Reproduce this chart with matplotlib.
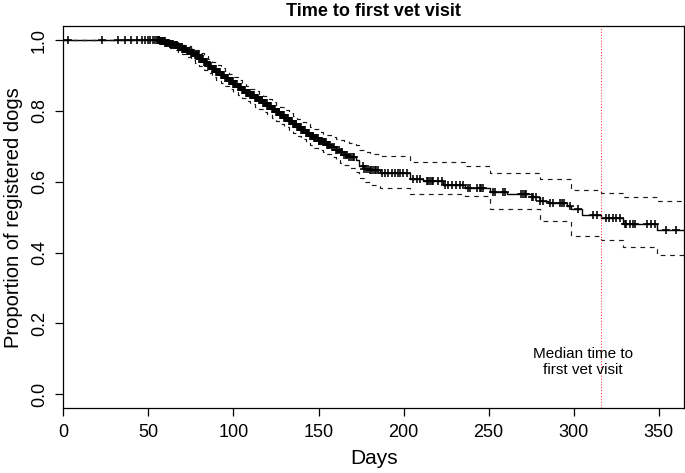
import numpy as np
import matplotlib
matplotlib.use("Agg")
import matplotlib.pyplot as plt

plt.rcParams['font.family'] = ['Liberation Sans', 'DejaVu Sans']

# Kaplan-Meier estimate: step times (days) and survival
step_days = [0, 57, 60, 62.5, 65, 67.5, 70, 72.5, 75, 77.5, 80, 82.5, 85, 87.5, 90,
             92.5, 95, 97.5, 100, 102.5, 105, 107.5, 110, 112.5, 115, 117.5, 120,
             122.5, 125, 127.5, 130, 132.5, 135, 137.5, 140, 142.5, 145, 147.5,
             150, 152.5, 155, 157.5, 160, 162.5, 165, 168, 172, 174, 177, 180, 186,
             203.7, 211.6, 223.3, 236, 250.7, 260.5, 275.2, 280, 285, 295.8, 298.7,
             304.6, 316.3, 329, 348.7]
surv = [1.0, 0.997, 0.993, 0.989, 0.985, 0.98, 0.975, 0.969, 0.963, 0.957, 0.948,
        0.938, 0.928, 0.919, 0.91, 0.902, 0.893, 0.884, 0.876, 0.868, 0.86, 0.852,
        0.845, 0.838, 0.83, 0.823, 0.815, 0.806, 0.797, 0.789, 0.78, 0.771, 0.762,
        0.754, 0.745, 0.737, 0.73, 0.723, 0.716, 0.711, 0.705, 0.698, 0.69, 0.683,
        0.675, 0.67, 0.662, 0.645, 0.636, 0.632, 0.626,
        0.609, 0.602, 0.592, 0.583, 0.571, 0.566, 0.558, 0.547, 0.540, 0.531,
        0.522, 0.507, 0.498, 0.482, 0.465]
upper = [1.0, 1.0, 0.999, 0.997, 0.995, 0.991, 0.987, 0.983, 0.978, 0.971, 0.963,
         0.956, 0.948, 0.939, 0.93, 0.921, 0.913, 0.905, 0.897, 0.888, 0.88, 0.871,
         0.862, 0.855, 0.848, 0.842, 0.835, 0.826, 0.818, 0.81, 0.802, 0.794,
         0.786, 0.778, 0.77, 0.762, 0.755, 0.748, 0.741, 0.736, 0.732, 0.727,
         0.722, 0.718, 0.714, 0.71, 0.705, 0.69, 0.683, 0.679, 0.673,
         0.656, 0.656, 0.656, 0.645, 0.626, 0.626, 0.626, 0.607, 0.607, 0.607,
         0.578, 0.578, 0.569, 0.558, 0.545]
lower = [1.0, 0.99, 0.986, 0.979, 0.972, 0.966, 0.96, 0.953, 0.945, 0.936, 0.926,
         0.916, 0.906, 0.897, 0.888, 0.879, 0.87, 0.861, 0.853, 0.845, 0.837,
         0.828, 0.82, 0.812, 0.805, 0.797, 0.79, 0.781, 0.772, 0.763, 0.755,
         0.746, 0.737, 0.728, 0.72, 0.711, 0.703, 0.696, 0.69, 0.684, 0.678,
         0.67, 0.662, 0.654, 0.647, 0.64, 0.628, 0.612, 0.60, 0.592, 0.583,
         0.564, 0.564, 0.564, 0.56, 0.522, 0.522, 0.522, 0.489, 0.489, 0.489,
         0.446, 0.446, 0.435, 0.416, 0.394]

# censoring times (days)
censor_days = [3, 22.5, 32, 36, 39.5, 43.5, 46, 48, 49.5, 51, 52.5, 54, 55, 55.5, 56,
               56.5, 57, 57.5, 58, 58.5, 59, 59.5, 60, 60.5, 61, 61.5, 62, 62.5, 63,
               63.5, 64, 64.5, 65, 65.5, 66, 66.5, 67, 67.5, 68, 68.5, 69, 69.5, 70,
               70.5, 71, 71.5, 72, 72.5, 73, 73.5, 74, 74.5, 75, 75.5, 76, 76.5, 77,
               77.5, 78, 78.5, 79, 79.5, 80, 80.5, 81, 81.5, 82, 82.5, 83, 83.5, 84,
               84.5, 85, 85.5, 86, 86.5, 87, 87.5, 88, 88.5, 89, 89.5, 90, 90.5, 91,
               91.5, 92, 92.5, 93, 93.5, 94, 94.5, 95, 95.5, 96, 96.5, 97, 97.5, 98,
               98.5, 99, 99.5, 100, 100.5, 101, 101.5, 102, 102.5, 103, 103.5, 104,
               104.5, 105, 105.5, 106, 106.5, 107, 107.5, 108, 108.5, 109, 109.5,
               110, 110.5, 111, 111.5, 112, 112.5, 113, 113.5, 114, 114.5, 115,
               115.5, 116, 116.5, 117, 117.5, 118, 118.5, 119, 119.5, 120, 120.5,
               121, 121.5, 122, 122.5, 123, 123.5, 124, 124.5, 125, 125.5, 126,
               126.5, 127, 127.5, 128, 128.5, 129, 129.5, 130, 130.5, 131, 131.5,
               132, 132.5, 133, 133.5, 134, 134.5, 135, 135.5, 136, 136.5, 137,
               137.5, 138, 138.5, 139, 139.5, 140, 140.5, 141, 141.5, 142, 142.5,
               143, 143.5, 144, 144.5, 145, 145.5, 146, 146.5, 147, 147.5, 148,
               148.5, 149, 149.5, 150, 150.5, 151, 151.5, 152, 152.5, 153, 153.5,
               154, 154.5, 155, 155.5, 156, 157, 158, 159, 160, 161, 162, 163, 164,
               165, 166, 167, 168, 169, 170, 171, 176, 177, 178, 179, 180, 181,
               182, 183, 184, 185,
               187.1, 189, 191, 193, 194.9, 196.9, 197.9, 199.8, 201.8, 205.7,
               207.6, 209.6, 213.5, 214.5, 215.5, 216.5, 217.4, 220.4, 222.3,
               224.3, 226.2, 228.2, 231.1, 233.1, 235.1, 238, 239, 242.9, 244.9,
               245.8, 246.8, 252.7, 253.7, 258.6, 259.5, 269.3, 270.3, 271.2,
               272.2, 275.2, 276.2, 278, 280, 282, 286, 288, 292, 293, 294, 297.7,
               302.6, 311.5, 313.4, 319, 321, 323, 325, 327, 330, 331, 333, 335,
               336, 342.8, 345.7, 347.7, 354.5, 360.4]

median_day = 316
x_ticks = [0, 50, 100, 150, 200, 250, 300, 350]
y_ticks = [0.0, 0.2, 0.4, 0.6, 0.8, 1.0]
x_max = 365

fig = plt.figure(figsize=(6.85, 4.73), dpi=100)
ax = fig.add_axes([63.3 / 685, (473 - 408.3) / 473, (684.3 - 63.3) / 685, (408.3 - 26) / 473])

sd = np.array(step_days + [x_max])
ax.step(sd, surv + [surv[-1]], where='post', color='black', lw=1.0)
ax.step(sd, upper + [upper[-1]], where='post', color='#1a1a1a', lw=0.85, dashes=(4, 4))
ax.step(sd, lower + [lower[-1]], where='post', color='#1a1a1a', lw=0.85, dashes=(4, 4))

cd = np.array(censor_days)
idx = np.searchsorted(np.array(step_days), cd, side='right') - 1
cy = np.array(surv)[idx]
ax.plot(cd, cy, linestyle='none', marker='+', color='black', markersize=6.2,
        markeredgewidth=1.15)

ax.axvline(median_day, color='#ff4040', lw=0.8, linestyle=(0, (1, 1.6)))
ax.text(305.5, 0.09, "Median time to\nfirst vet visit", ha='center', va='center',
        fontsize=11, linespacing=1.2)

ax.set_xlim(0, x_max)
ax.set_ylim(-0.04, 1.04)
ax.set_xticks(x_ticks)
ax.set_xticklabels([str(v) for v in x_ticks])
ax.set_yticks(y_ticks)
ax.set_yticklabels([f"{v:.1f}" for v in y_ticks], rotation=90, va='center')
ax.tick_params(direction='out', length=6, width=0.9, labelsize=13, pad=5)
for s in ax.spines.values():
    s.set_linewidth(0.9)
ax.set_xlabel("Days", fontsize=15, labelpad=6)
ax.set_ylabel("Proportion of registered dogs", fontsize=14.5, labelpad=6)
ax.set_title("Time to first vet visit", fontsize=13, fontweight='bold', pad=7)

fig.savefig("out.png", dpi=100)
